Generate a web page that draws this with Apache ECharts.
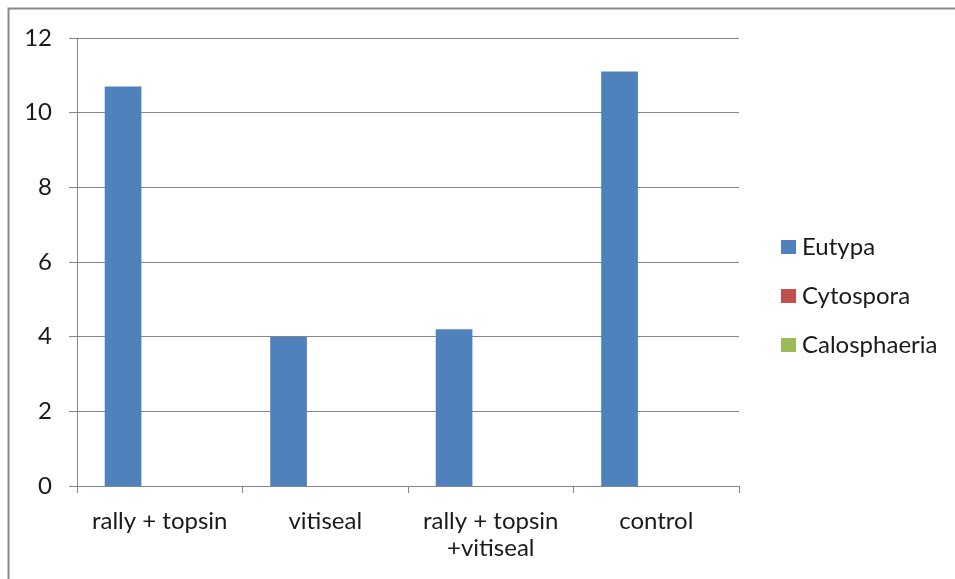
<!DOCTYPE html>
<html><head><meta charset="utf-8">
<script src="https://cdn.jsdelivr.net/npm/echarts@6/dist/echarts.min.js"></script>
<style>html,body{margin:0;padding:0;background:#fff}#c{width:955px;height:579px}</style>
</head><body><div id="c"></div>
<script>
const categories = ["rally + topsin", "vitiseal", "rally + topsin\n+vitiseal", "control"];
const eutypa = [10.7, 4.0, 4.2, 11.1];
const cytospora = [0, 0, 0, 0];
const calosphaeria = [0, 0, 0, 0];
const seriesNames = ["Eutypa", "Cytospora", "Calosphaeria"];
const yTicks = { min: 0, max: 12, interval: 2 };

const FONT = 'Lato';
const chart = echarts.init(document.getElementById('c'), null, { renderer: 'canvas' });
const barCommon = { type: 'bar', barGap: '0%', barCategoryGap: '33.5%' };
chart.setOption({
  animation: false,
  backgroundColor: '#fff',
  textStyle: { fontFamily: FONT },
  graphic: [{
    type: 'rect', shape: { x: 8.5, y: 8.5, width: 980, height: 620 },
    style: { fill: 'none', stroke: '#8a8a8a', lineWidth: 2 }, silent: true
  }],
  grid: { left: 77, top: 38, right: 216, bottom: 93, containLabel: false },
  legend: {
    orient: 'vertical', left: 781, top: 235, padding: 0,
    itemWidth: 15, itemHeight: 14, itemGap: 25,
    icon: 'rect',
    textStyle: { fontFamily: FONT, fontSize: 24, color: '#1a1a1a', lineHeight: 24, padding: [0, 0, 0, 1] },
    data: seriesNames
  },
  xAxis: {
    type: 'category', data: categories,
    axisLine: { lineStyle: { color: '#868686', width: 1 } },
    axisTick: { show: true, length: 7, lineStyle: { color: '#868686' } },
    axisLabel: { fontFamily: FONT, fontSize: 24, color: '#1a1a1a', margin: 22, lineHeight: 27, interval: 0 },
    splitLine: { show: false }
  },
  yAxis: {
    type: 'value', min: yTicks.min, max: yTicks.max, interval: yTicks.interval,
    axisLine: { show: true, lineStyle: { color: '#868686', width: 1 } },
    axisTick: { show: true, length: 8, lineStyle: { color: '#868686' } },
    axisLabel: { fontFamily: FONT, fontSize: 24, color: '#1a1a1a', margin: 25 },
    splitLine: { show: true, lineStyle: { color: '#868686', width: 1 } }
  },
  series: [
    Object.assign({ name: seriesNames[0], data: eutypa, itemStyle: { color: '#4F81BD' } }, barCommon),
    Object.assign({ name: seriesNames[1], data: cytospora, itemStyle: { color: '#C0504D' } }, barCommon),
    Object.assign({ name: seriesNames[2], data: calosphaeria, itemStyle: { color: '#9BBB59' } }, barCommon)
  ]
});
</script></body></html>
